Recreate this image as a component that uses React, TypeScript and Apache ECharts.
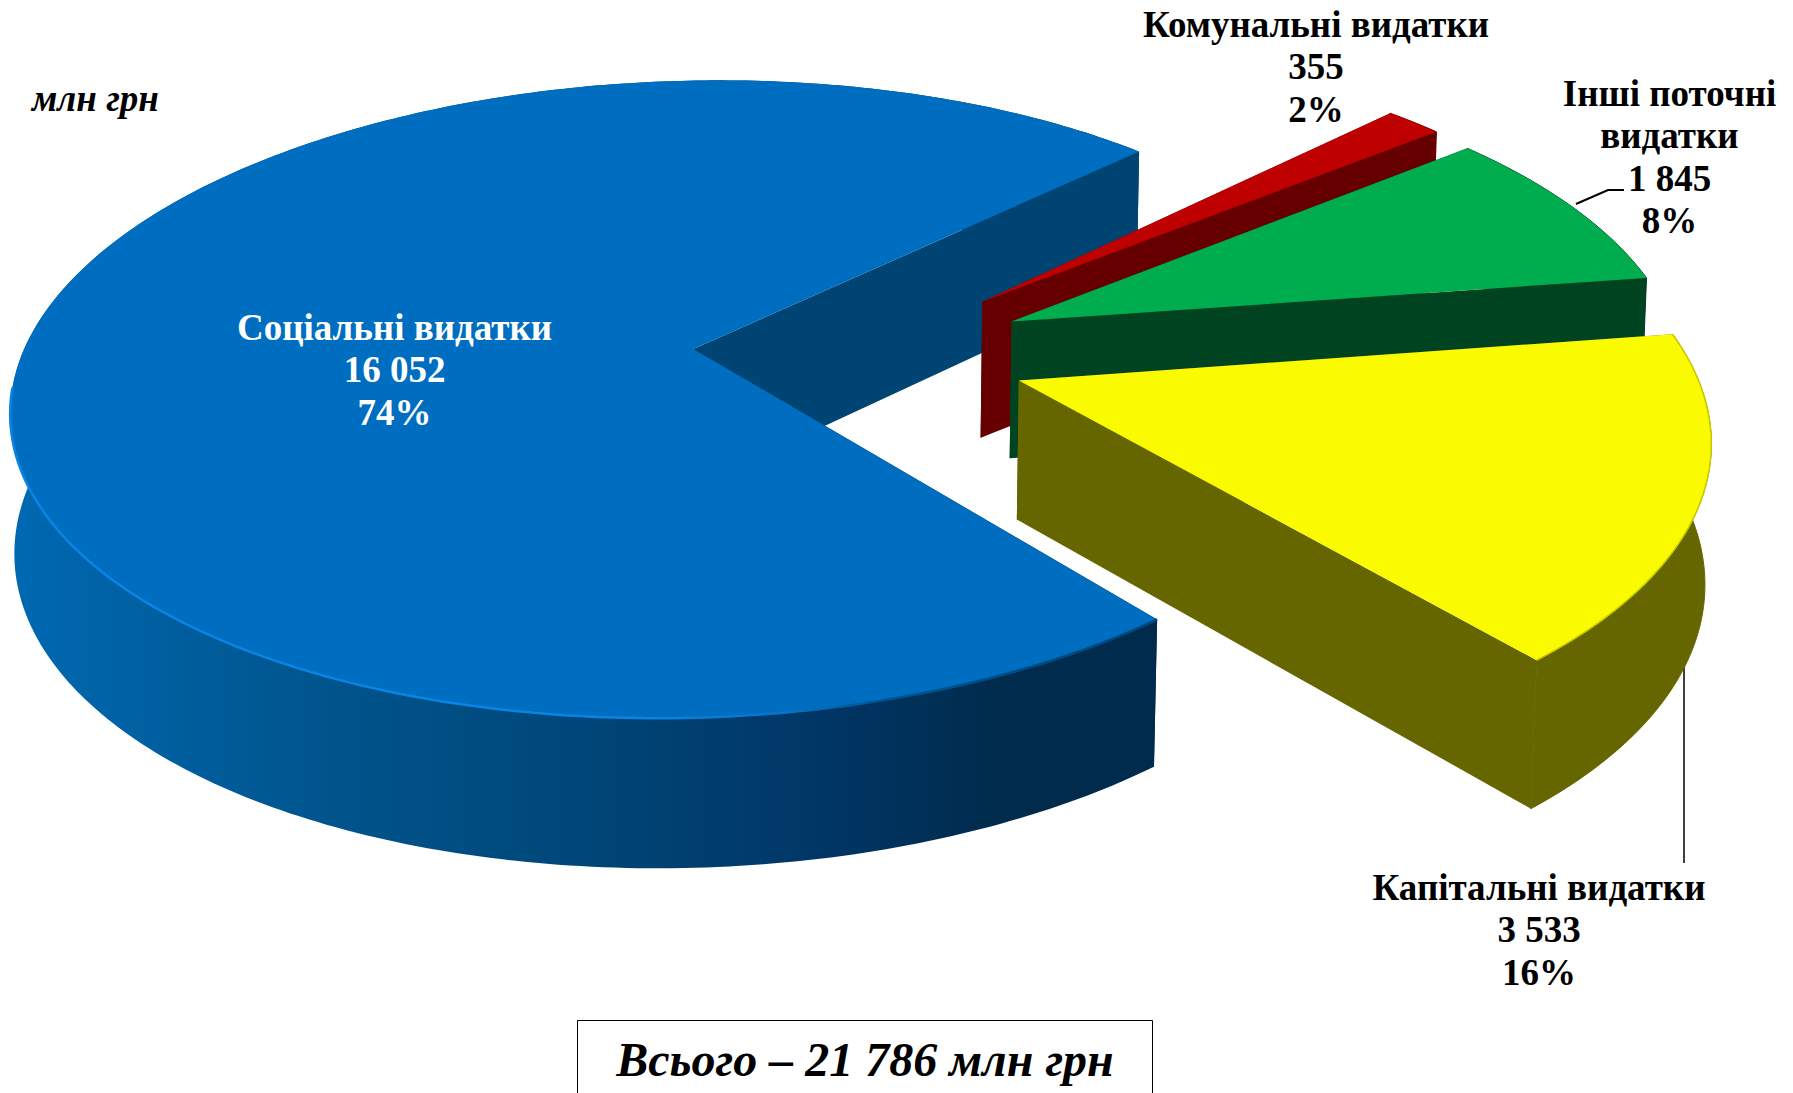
import React, { useEffect, useRef } from "react";
import * as echarts from "echarts";

const categories = ["Соціальні видатки", "Комунальні видатки", "Інші поточні\nвидатки", "Капітальні видатки"];
const values = [16052, 355, 1845, 3533];
const valueLabels = ["16 052", "355", "1 845", "3 533"];
const percentLabels = ["74%", "2%", "8%", "16%"];
const unitLabel = "млн грн";
const totalLabel = "Всього – 21 786 млн грн";

const topColors = ["#006EC0", "#BE0000", "#00AD4E", "#FAFA00"];
const wallColors = ["#004474", "#660000", "#004320", "#666600"];
const START_DEG = 49.9;
const EXPLODE = 0.25;
const PLANE_C = [0.25, 0.011];
const CX = 693, CY = 349, RX = 669, RY = 311, SKEW = -30, K = 0.1577, TH = 142, MX = 0.006, MY = 0.03;

const proj = (u: number, v: number, h: number) => {
  const w = 1 - K * v;
  return [CX + (RX * u + SKEW * v) / (w + MX * h), CY + (RY * v + TH * h) / (w + MY * h)];
};

const total = values.reduce((a, b) => a + b, 0);
let acc = 0;
const startAngles = values.map((value) => {
  const start = START_DEG + acc;
  acc += (value / total) * 360;
  return start;
});

const blueSide = () =>
  new echarts.graphic.LinearGradient(10, 0, 1160, 0, [
    { offset: 0, color: "#0069B2" },
    { offset: 0.25, color: "#00568F" },
    { offset: 0.5, color: "#004678" },
    { offset: 0.72, color: "#003564" },
    { offset: 0.86, color: "#002B4C" },
    { offset: 1, color: "#002B4C" },
  ] as any, true as any) as any;

const blueRim = () =>
  new echarts.graphic.LinearGradient(10, 0, 1160, 0, [
    { offset: 0, color: "#0A84E4" },
    { offset: 0.55, color: "#0A84E4" },
    { offset: 0.68, color: "#0A70C4" },
    { offset: 0.76, color: "#00528F" },
    { offset: 1, color: "#00477C" },
  ] as any, true as any) as any;

const renderSlice = (params: any, api: any) => {
  const i = params.dataIndex;
  const value = api.value(0) as number;
  const sweep = (value / total) * 360;
  const a0 = (startAngles[i] * Math.PI) / 180;
  const a1 = ((startAngles[i] + sweep) * Math.PI) / 180;
  const mid = (a0 + a1) / 2;
  const ax = PLANE_C[0] + EXPLODE * Math.cos(mid);
  const ay = PLANE_C[1] + EXPLODE * Math.sin(mid);
  const steps = Math.max(8, Math.ceil(sweep * 1.2));
  const at = (t: number, h: number) => proj(ax + Math.cos(t), ay + Math.sin(t), h);
  const arcTop: number[][] = [];
  const arcBot: number[][] = [];
  for (let s = 0; s <= steps; s++) {
    const t = a0 + ((a1 - a0) * s) / steps;
    arcTop.push(at(t, 0));
    arcBot.push(at(t, 1));
  }
  const apexTop = proj(ax, ay, 0);
  const apexBot = proj(ax, ay, 1);
  const wall = wallColors[i];
  const isBlue = i === 0;
  const children: any[] = [
    {
      type: "polygon",
      shape: { points: [...arcTop, ...[...arcBot].reverse()] },
      style: isBlue ? { fill: blueSide() } : { fill: wall, stroke: wall, lineWidth: 1 },
    },
    { type: "polygon", shape: { points: [apexTop, arcTop[0], arcBot[0], apexBot] }, style: { fill: isBlue ? blueSide() : wall } },
    { type: "polygon", shape: { points: [apexTop, arcTop[steps], arcBot[steps], apexBot] }, style: { fill: wall } },
    { type: "polygon", shape: { points: [apexTop, ...arcTop] }, style: { fill: topColors[i] } },
  ];
  if (isBlue) {
    const front = arcTop.filter((p, idx) => Math.sin(a0 + ((a1 - a0) * idx) / steps) > 0.12);
    children.push({
      type: "polyline",
      shape: { points: front },
      style: { fill: "none", stroke: blueRim(), lineWidth: 2.5 },
    });
  }
  if (i === 3) {
    children.push({
      type: "polyline",
      shape: { points: arcTop },
      style: { fill: "none", stroke: "#C9C900", lineWidth: 1.5 },
    });
  }
  return { type: "group", children };
};

const textBlock = (i: number) => `${categories[i]}\n${valueLabels[i]}\n${percentLabels[i]}`;
const FONT = '"Liberation Serif", "Times New Roman", serif';

const label = (i: number, x: number, y: number, fill: string) => ({
  type: "text",
  x,
  y,
  z: 100,
  style: {
    text: textBlock(i),
    fill,
    font: `bold 37px ${FONT}`,
    lineHeight: 42.5,
    align: "center",
    verticalAlign: "top",
  },
});

export default function App() {
  const ref = useRef<HTMLDivElement>(null);
  useEffect(() => {
    document.body.style.margin = "0";
    const chart = echarts.init(ref.current!, undefined, { renderer: "svg" });
    chart.setOption({
      animation: false,
      backgroundColor: "#fff",
      series: [
        {
          type: "custom",
          coordinateSystem: "none",
          silent: true,
          renderItem: renderSlice,
          data: values.map((v) => [v]),
        },
      ],
      graphic: [
        label(0, 394.5, 306, "#fff"),
        label(1, 1316, 3, "#000"),
        label(2, 1669.5, 72, "#000"),
        label(3, 1539, 866, "#000"),
        {
          type: "text",
          x: 32,
          y: 80,
          z: 100,
          style: { text: unitLabel, fill: "#000", font: `italic bold 37px ${FONT}` },
        },
        {
          type: "polyline",
          shape: { points: [[1576, 204], [1608, 190], [1624, 190]] },
          style: { fill: "none", stroke: "#000", lineWidth: 2 },
        },
        {
          type: "line",
          shape: { x1: 1684, y1: 646, x2: 1684, y2: 863 },
          style: { stroke: "#000", lineWidth: 1.5 },
        },
        {
          type: "rect",
          shape: { x: 577.5, y: 1020.5, width: 575, height: 90 },
          style: { fill: "#fff", stroke: "#000", lineWidth: 1 },
        },
        {
          type: "text",
          x: 865,
          y: 1059,
          z: 100,
          style: {
            text: totalLabel,
            fill: "#000",
            font: `italic bold 48px ${FONT}`,
            align: "center",
            verticalAlign: "middle",
          },
        },
      ],
    });
    return () => chart.dispose();
  }, []);
  return <div ref={ref} style={{ position: "fixed", left: 0, top: 0, width: 1793, height: 1093 }} />;
}
